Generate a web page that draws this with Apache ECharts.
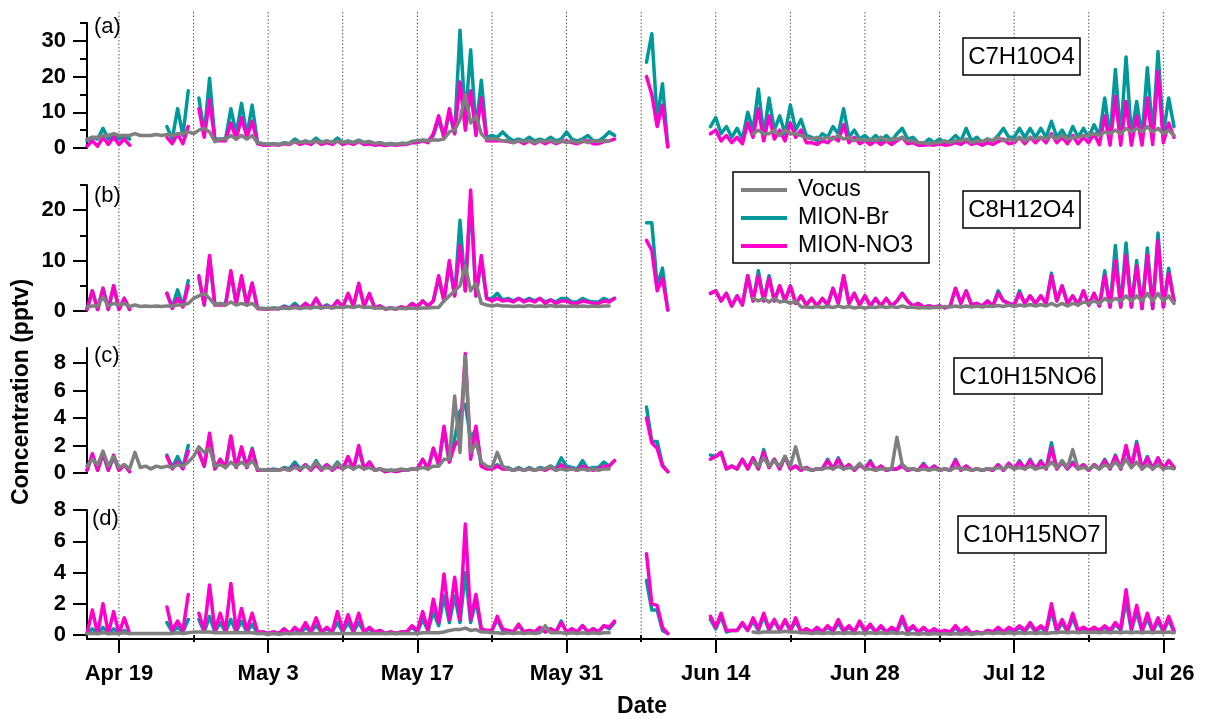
<!DOCTYPE html>
<html><head><meta charset="utf-8">
<script src="https://cdn.jsdelivr.net/npm/echarts@6/dist/echarts.min.js"></script>
<style>html,body{margin:0;padding:0;background:#fff}#chart{width:1207px;height:719px}</style>
</head><body><div id="chart"></div>
<script>
const _ = null;
// samples every 0.5 day starting Apr 16 00:00 (x = days since Apr 16)
const STEP = 0.5;
const tickDays = [3, 17, 31, 45, 59, 73, 87, 101];
const tickLabels = ['Apr 19', 'May 3', 'May 17', 'May 31', 'Jun 14', 'Jun 28', 'Jul 12', 'Jul 26'];
const minorDays = [10, 24, 38, 52, 66, 80, 94];
const weekDays = [3, 10, 17, 24, 31, 38, 45, 52, 59, 66, 73, 80, 87, 94, 101];
const seriesNames = ['Vocus', 'MION-Br', 'MION-NO3'];
const compounds = ['C7H10O4', 'C8H12O4', 'C10H15NO6', 'C10H15NO7'];
const panelLabels = ['(a)', '(b)', '(c)', '(d)'];
const yTicksA = [0, 10, 20, 30], yMinorA = [5, 15, 25, 35];
const yTicksB = [0, 10, 20], yMinorB = [5, 15, 25];
const yTicksC = [0, 2, 4, 6, 8];
const yTicksD = [0, 2, 4, 6, 8];

// ---- panel (a) C7H10O4 ----
const vocusA = [
2.5,3, 3,3.5, 3.5,4, 3.5,3.5, 3.5,4, 3.5,3.5, 3.5,3.8,
3.5,3.8, 3.5,4, 4,4.5, 4,5, 5.5,4.5, 1.8,2.5, 2.5,3.5,
2.5,3.5, 2.5,3.5, 1.5,1.2, 1,1.2, 1,1.3, 1.2,1.8, 1.5,1.8,
1.5,2, 1.5,2, 1.5,2, 1.5,1.8, 1.5,2, 1.5,1.8, 1.2,1.5,
1,1.2, 1,1.3, 1.2,1.8, 2,2.2, 2,2.3, 2.2,2.5, 4.5,5,
8,15, 7,9, 4,2.5, 2.5,2.5, 2,2, 1.5,2, 1.8,2,
1.5,2, 1.8,2.2, 1.5,2, 1.5,2, 1.5,2, 1.5,2, 1.8,2,
2,_, _,_, _,_, _,_, _,_, _,_, _,_,
_,_, _,_, _,_, _,_, _,_, _,_, _,4,
5,4, 4,5, 3.5,5, 4,4, 3.5,3, 2.5,3, 2.5,3,
2.5,3.5, 2.5,3, 2,2.5, 2,2.5, 2,3, 2,2.5, 2.5,3,
2,2, 1.5,1.5, 1.2,1.5, 1.5,2, 1.5,2, 2,2.5, 1.5,2,
1.8,2.5, 2,3, 2,2.5, 2,3, 2,3, 2.5,3, 2.5,3.5,
2.5,3.5, 2.5,3, 3,3.5, 3.5,4, 3.5,4.5, 4,5, 4,5.5,
4.5,5.5, 4.5,6, 4.5,5.5, 4,5, 3.5];
const brA = [
2,3, 2.5,5.5, 2.5,3.5, 2.5,3.5, 2.5,_, _,_, _,_,
_,6, 2.5,11, 3.5,16, _,14, 4,19.5, 2.5,2.5, 2.5,11,
4,12.5, 3.5,12, 1.5,1.2, 1,1.2, 1,1.5, 1.2,2.5, 1.5,2,
1.5,2.8, 1.5,2, 1.5,2.8, 1.5,2, 1.5,2.2, 1.5,1.8, 1.2,1.5,
1,1.3, 1,1.3, 1.2,1.8, 1.8,2.2, 2,3.5, 8,3, 10,4,
33,8, 27.5,5, 19,3, 3.5,3, 4.5,3, 2,2.5, 2,3,
2,2.5, 2,3, 2,2.5, 4.5,2.5, 2,2.5, 3.5,2, 2,3,
4.5,3.5, _,_, _,_, _,24, 32,8, 18,0.5, _,_,
_,_, _,_, _,6, 8.5,4, 6,3, 5.5,2.5, 10,5,
16.5,3.5, 14,5, 9,4, 12,5, 8,3.5, 3,2, 4,3,
6,4, 11,3, 5,2.5, 3.5,2, 3.5,2, 3.5,2, 4,5.5,
2.5,3, 1.5,1.2, 2.5,1.5, 2.5,1.5, 2,3.5, 2,5.5, 2,3,
1.5,2.5, 2,3.5, 5.5,3, 3,5.5, 3,5.5, 3,5.5, 3,7.5,
3,5, 2.5,6, 3,5.5, 3,6.5, 3.5,14, 3,22, 3,25.5,
3.5,13, 3,22.5, 3.5,27, 4,14, 6];
const no3A = [
0.5,2, 0.5,3, 1,3, 1,2.5, 0.8,_, _,_, _,_,
_,3, 1.2,4, 1.2,6, _,11, 3,13.5, 2,2, 2,7,
2.5,8.5, 3,7.5, 1.2,0.8, 0.8,1, 0.8,1.2, 1,1.8, 1,1.5,
1,2, 1,1.5, 1,2, 1,1.5, 1,1.8, 1,1.2, 0.8,1,
0.7,1, 0.8,1, 1,1.5, 1.5,2, 1.5,4, 9,3, 11,4,
18.5,5, 16,3.5, 14,2, 2,2, 2,1.8, 1.5,2, 1.2,2,
1.2,2, 1.2,2, 1.2,1.8, 2,1.5, 1.2,1.8, 2,1.2, 1.2,1.8,
2,2.5, _,_, _,_, _,20, 15,6, 12,0.3, _,_,
_,_, _,_, _,4, 5,2, 3.5,1.5, 3,1.2, 7,3,
11,2, 9,2.5, 5,2, 7,3, 5,1.5, 1.5,1, 2,1.5,
3,2, 6.5,1.5, 3,1.2, 2,1, 2,1, 2,1, 2,3,
1.2,1.5, 0.8,0.8, 1,0.8, 1.2,0.8, 1,1.5, 1,2, 1,1.5,
0.8,1.5, 1,1.8, 2.5,1.2, 1.5,3, 1.2,3, 1.5,3, 1.5,4,
1.5,3, 1.2,3.5, 1.2,3, 1.5,4, 0.9,9, 0.8,14.5, 0.8,13,
0.8,9, 0.8,14, 1,21.5, 1.5,7, 3];

// ---- panel (b) C8H12O4 ----
const vocusB = [
0.8,1, 1,2.8, 1,1.5, 1.2,1.5, 0.9,1.2, 0.9,1, 0.9,1,
0.9,1, 1,1.2, 1.2,1.5, 2.5,3, 3.5,2.5, 1.2,1.5, 1.2,1.8,
1.2,1.5, 1.2,1.5, 0.6,0.5, 0.5,0.5, 0.5,0.6, 0.5,0.7, 0.5,0.7,
0.6,0.8, 0.6,0.8, 0.6,0.8, 0.7,0.9, 0.7,1, 0.7,0.8, 0.6,0.6,
0.5,0.5, 0.5,0.5, 0.5,0.6, 0.5,0.6, 0.6,0.7, 0.7,2, 3,4,
5,9, 4,5.5, 1.5,1.2, 1,1.2, 1,1, 0.9,1, 0.9,1.1,
0.9,1, 0.9,1.1, 0.9,1, 0.9,1, 0.9,1, 0.9,1, 0.9,1,
1,_, _,_, _,_, _,_, _,_, _,_, _,_,
_,_, _,_, _,_, _,_, _,_, _,_, _,2.5,
2,2.5, 1.8,2.5, 1.8,2, 1.5,2, 0.8,0.8, 0.7,0.9, 0.7,0.9,
0.7,1, 0.7,0.9, 0.6,0.8, 0.6,0.8, 0.7,0.9, 0.7,0.9, 0.7,1,
0.7,0.8, 0.6,0.7, 0.6,0.7, 0.7,0.9, 0.8,1, 0.8,1, 0.8,1,
0.8,1, 0.9,1.1, 0.9,1.2, 0.9,1.2, 1,1.3, 1,1.3, 1,1.5,
1,1.5, 1,1.5, 1.2,1.8, 1.5,2, 1.5,2.5, 1.8,2.5, 2,3,
2,3, 2,3.5, 2,3.5, 2,3, 1.5];
const brB = [
0.3,4, 0.3,4.5, 0.3,5, 0.3,2.5, 0.3,_, _,_, _,_,
_,3.5, 0.8,4.2, 1,6, _,6.5, 1.2,10.5, 1.2,1.5, 1.3,7.5,
1.5,6.5, 1.2,5.5, 0.5,0.5, 0.4,0.6, 0.5,1, 0.6,1.5, 0.6,1.5,
0.7,2.5, 0.7,1.2, 0.7,2, 0.8,3.3, 1,5.2, 1,3.3, 0.6,1,
0.4,0.6, 0.4,0.8, 0.5,1.5, 0.8,2, 1,2, 6.5,2, 9.5,3,
18,4, 22,3, 10,2.5, 2.5,3.5, 2.2,2.5, 2,2.5, 2,2.5,
2,2.5, 1.8,2.2, 1.8,2.5, 2.5,1.8, 1.8,2.5, 2,1.8, 1.8,2.5,
2,2.5, _,_, _,_, _,17.5, 17.5,5, 8.5,0.2, _,_,
_,_, _,_, _,3.5, 4,2, 3.5,1, 3,1.2, 7,2,
8,2, 7,2, 5,2, 5,1.5, 3,1.2, 2.5,1, 2.5,1.2,
4.5,1.5, 7,1.5, 3.5,1.2, 3,1, 2.5,1, 2.5,1, 2,3.5,
2,1, 1.5,0.8, 1,0.8, 1,0.6, 1,4.5, 1.5,4, 1.2,1.5,
1,2, 1,4, 2,1.5, 1.2,4, 1.5,3, 1.5,3, 1.5,7.5,
2,5, 1.5,3, 1.2,4, 1.2,3.5, 1,8, 0.8,13, 0.8,13.5,
0.8,10, 0.5,12.5, 0.5,15.5, 0.8,8.5, 2];
const no3B = [
0.3,4, 0.3,4.5, 0.3,5, 0.3,2.5, 0.3,_, _,_, _,_,
_,3.5, 0.5,2.5, 0.8,5, _,7, 1.2,11, 1.2,1.2, 1.2,8,
1.5,7, 1.2,5.5, 0.5,0.4, 0.4,0.5, 0.4,0.8, 0.5,1, 0.5,1.5,
0.6,2.5, 0.6,1, 0.6,2, 0.8,3.5, 1,5.5, 1,3.5, 0.6,1,
0.4,0.6, 0.4,0.8, 0.5,1.5, 0.8,2, 1,2, 7,2, 10,3,
13,4, 24,3, 11,2.5, 2,2.5, 2,2.2, 1.8,2.5, 1.8,2.2,
1.8,2.5, 1.5,2.2, 1.5,2, 2,1.5, 1.5,2, 1.8,1.5, 1.5,2,
1.8,2.5, _,_, _,_, _,14, 12,4, 6.5,0.2, _,_,
_,_, _,_, _,3.5, 4,2, 3.5,1, 3,1.2, 7,2,
7,2, 6.5,2, 5,2, 5,1.5, 3,1.2, 2.5,1, 2.5,1.2,
4.5,1.5, 7,1.5, 3.5,1.2, 3,1, 2.5,1, 2.5,1, 2,3.5,
2,1, 1.5,0.8, 1,0.8, 1,0.6, 1,4.5, 1.5,4, 1.2,1.5,
1,2, 1,3.5, 2,1.5, 1.2,3.5, 1.5,3, 1.5,3, 1.5,7,
2,5, 1.5,3, 1.2,4, 1.2,3.5, 1,7, 0.8,10, 0.8,11,
0.8,9, 0.5,11, 0.5,14, 0.8,7.5, 2];

// ---- panel (c) C10H15NO6 ----
const vocusC = [
0.5,1, 0.6,1.6, 0.5,1.2, 0.4,0.6, 0.3,1.5, 0.4,0.5, 0.3,0.5,
0.4,0.5, 0.4,0.6, 0.5,0.8, 1.2,1.9, 1.5,1.8, 0.5,0.6, 0.4,0.8,
0.5,0.8, 0.5,0.9, 0.3,0.2, 0.2,0.2, 0.2,0.3, 0.2,0.4, 0.3,0.5,
0.3,0.8, 0.3,0.4, 0.3,0.7, 0.3,0.5, 0.3,0.5, 0.3,0.4, 0.2,0.3,
0.2,0.2, 0.2,0.3, 0.2,0.3, 0.3,0.4, 0.3,0.5, 0.5,1, 1,5.6,
1.5,8.5, 1.5,2.2, 0.8,0.5, 0.4,1.5, 0.5,0.3, 0.2,0.3, 0.2,0.3,
0.2,0.3, 0.3,0.5, 0.2,0.3, 0.2,0.3, 0.2,0.3, 0.2,0.3, 0.2,0.3,
0.3,_, _,_, _,_, _,_, _,_, _,_, _,_,
_,_, _,_, _,_, _,_, _,_, _,_, _,0.8,
0.5,1.1, 0.5,0.9, 0.5,1.2, 0.5,1.9, 0.4,0.3, 0.2,0.3, 0.3,0.4,
0.3,0.5, 0.3,0.4, 0.3,0.7, 0.3,0.3, 0.2,0.3, 0.3,0.3, 2.6,0.6,
0.3,0.3, 0.2,0.3, 0.2,0.3, 0.2,0.3, 0.2,0.4, 0.3,0.3, 0.2,0.3,
0.2,0.3, 0.3,0.4, 0.3,0.5, 0.3,0.4, 0.3,0.5, 0.3,0.4, 0.4,0.8,
0.4,0.9, 0.4,1.7, 0.3,0.4, 0.3,0.5, 0.3,0.6, 0.4,0.8, 0.4,1,
0.4,0.8, 0.3,0.6, 0.3,0.6, 0.3,0.4, 0.3];
const brC = [
0.2,1.3, 0.2,1.4, 0.2,1.2, 0.2,0.6, 0.1,_, _,_, _,_,
_,1.3, 0.4,1.2, 0.4,2, _,1.5, 0.5,2.7, 0.3,1, 0.4,2.6,
0.4,1.8, 0.4,1.8, 0.2,0.2, 0.2,0.3, 0.2,0.4, 0.3,0.8, 0.3,0.6,
0.3,0.9, 0.3,0.6, 0.3,0.8, 0.3,1.1, 0.3,1.8, 0.3,0.8, 0.2,0.3,
0.1,0.2, 0.1,0.2, 0.2,0.3, 0.3,1, 0.3,1.8, 0.6,3.2, 0.8,2.5,
4.5,5, 2.5,3.2, 0.5,0.4, 0.3,0.6, 0.3,0.4, 0.2,0.4, 0.2,0.4,
0.2,0.4, 0.3,0.5, 0.3,1.1, 0.5,0.4, 0.3,0.9, 0.3,0.4, 0.4,0.8,
0.5,0.9, _,_, _,_, _,4.8, 2.3,2.3, 0.6,0.1, _,_,
_,_, _,_, _,1.3, 1.2,1.5, 0.3,0.5, 0.3,1, 0.3,1.1,
0.3,1.7, 0.4,1, 0.3,1.2, 0.3,0.5, 0.2,0.4, 0.2,0.3, 0.3,1,
0.3,1.1, 0.3,0.6, 0.2,0.6, 0.3,0.9, 0.2,0.5, 0.2,0.3, 0.3,0.6,
0.2,0.3, 0.2,0.7, 0.2,0.5, 0.2,0.3, 0.2,1, 0.2,0.5, 0.2,0.3,
0.2,0.3, 0.2,0.6, 0.2,0.7, 0.3,0.9, 0.3,1, 0.3,0.9, 0.3,2.2,
0.3,0.8, 0.3,0.8, 0.3,0.6, 0.2,0.6, 0.3,1, 0.3,1.3, 0.3,1.8,
0.4,2.3, 0.3,1.2, 0.3,1.1, 0.3,0.9, 0.4];
const no3C = [
0.2,1.4, 0.2,1.5, 0.2,1.3, 0.2,0.6, 0.1,_, _,_, _,_,
_,1.2, 0.3,0.8, 0.3,1.6, _,1.5, 0.5,2.9, 0.3,1, 0.4,2.7,
0.4,1.9, 0.4,1.7, 0.2,0.2, 0.2,0.2, 0.2,0.3, 0.2,0.5, 0.2,0.6,
0.2,0.6, 0.2,0.6, 0.2,0.5, 0.3,1.2, 0.3,2, 0.3,0.8, 0.2,0.3,
0.1,0.2, 0.1,0.2, 0.2,0.3, 0.3,1, 0.3,1.8, 0.6,3.4, 0.8,2,
2.5,8.7, 1,3.4, 0.5,0.3, 0.3,0.5, 0.3,0.3, 0.2,0.3, 0.2,0.3,
0.2,0.3, 0.2,0.4, 0.2,0.6, 0.3,0.3, 0.2,0.5, 0.3,0.2, 0.3,0.5,
0.5,0.9, _,_, _,_, _,4, 2.2,1.8, 0.5,0.1, _,_,
_,_, _,_, _,1, 1.2,1.5, 0.3,0.5, 0.3,1, 0.3,1.1,
0.3,1.5, 0.4,1, 0.3,1.2, 0.3,0.5, 0.2,0.4, 0.2,0.3, 0.3,0.9,
0.3,1, 0.3,0.6, 0.2,0.6, 0.3,0.8, 0.2,0.5, 0.2,0.3, 0.3,0.5,
0.2,0.3, 0.2,0.6, 0.2,0.5, 0.2,0.3, 0.2,0.9, 0.2,0.5, 0.2,0.3,
0.2,0.3, 0.2,0.6, 0.2,0.7, 0.3,0.8, 0.3,0.9, 0.3,0.8, 0.3,1.8,
0.3,0.8, 0.3,0.7, 0.3,0.6, 0.2,0.6, 0.3,0.9, 0.3,1.2, 0.3,2,
0.4,2.1, 0.3,1.1, 0.3,1.1, 0.3,0.9, 0.4];

// ---- panel (d) C10H15NO7 ----
const vocusD = [
0.1,0.1, 0.1,0.15, 0.1,0.1, 0.1,0.15, 0.1,0.1, 0.1,0.1, 0.1,0.1,
0.1,0.1, 0.1,0.15, 0.1,0.15, 0.2,0.2, 0.2,0.2, 0.15,0.15, 0.15,0.15,
0.15,0.15, 0.15,0.15, 0.1,0.1, 0.05,0.1, 0.05,0.1, 0.1,0.1, 0.1,0.1,
0.1,0.1, 0.1,0.1, 0.1,0.1, 0.1,0.1, 0.1,0.1, 0.1,0.1, 0.1,0.1,
0.1,0.1, 0.1,0.1, 0.1,0.1, 0.1,0.15, 0.15,0.15, 0.15,0.2, 0.3,0.35,
0.35,0.45, 0.3,0.35, 0.2,0.2, 0.15,0.15, 0.1,0.15, 0.1,0.15, 0.1,0.15,
0.1,0.15, 0.6,0.15, 0.15,0.15, 0.1,0.15, 0.1,0.15, 0.1,0.15, 0.1,0.15,
0.15,_, _,_, _,_, _,_, _,_, _,_, _,_,
_,_, _,_, _,_, _,_, _,_, _,_, _,0.2,
0.15,0.2, 0.2,0.2, 0.2,0.25, 0.2,0.2, 0.15,0.15, 0.1,0.15, 0.1,0.15,
0.1,0.15, 0.1,0.15, 0.1,0.15, 0.1,0.15, 0.1,0.15, 0.1,0.15, 0.1,0.15,
0.05,0.1, 0.05,0.1, 0.05,0.1, 0.05,0.1, 0.05,0.1, 0.05,0.1, 0.05,0.1,
0.1,0.15, 0.1,0.15, 0.1,0.15, 0.1,0.15, 0.1,0.15, 0.1,0.15, 0.1,0.15,
0.15,0.2, 0.15,0.2, 0.15,0.2, 0.15,0.2, 0.15,0.2, 0.15,0.2, 0.15,0.2,
0.15,0.2, 0.15,0.2, 0.15,0.2, 0.15,0.2, 0.15];
const brD = [
0.1,0.4, 0.1,0.5, 0.1,0.4, 0.1,0.3, 0.1,_, _,_, _,_,
_,0.8, 0.2,0.5, 0.2,1, _,1, 0.2,1.2, 0.2,0.8, 0.2,1,
0.2,0.9, 0.2,0.7, 0.1,0.2, 0.1,0.2, 0.1,0.4, 0.1,0.4, 0.1,0.5,
0.2,0.6, 0.2,0.4, 0.2,0.8, 0.2,0.8, 0.2,0.8, 0.2,0.4, 0.1,0.3,
0.1,0.2, 0.1,0.2, 0.2,0.5, 0.2,1, 0.3,1.5, 0.6,2.5, 0.8,2.5,
0.8,4, 0.8,2.2, 0.3,0.3, 0.3,1, 0.3,0.3, 0.2,0.6, 0.2,0.3,
0.2,0.4, 0.2,0.4, 0.2,0.9, 0.2,0.4, 0.2,0.6, 0.2,0.4, 0.2,0.6,
0.4,0.8, _,_, _,_, _,3.5, 1.6,1.6, 0.3,0.1, _,_,
_,_, _,_, _,1, 0.4,1.2, 0.2,0.3, 0.3,0.7, 0.3,0.9,
0.3,1.2, 0.3,0.9, 0.3,0.9, 0.3,0.9, 0.2,0.4, 0.2,0.4, 0.2,0.5,
0.2,0.8, 0.2,0.5, 0.2,0.8, 0.2,0.6, 0.2,0.5, 0.2,0.4, 0.2,1,
0.2,0.5, 0.2,0.4, 0.2,0.3, 0.1,0.3, 0.1,0.5, 0.1,0.4, 0.1,0.2,
0.1,0.3, 0.2,0.4, 0.2,0.4, 0.2,0.5, 0.2,0.7, 0.2,0.5, 0.2,1.6,
0.2,0.8, 0.2,1.1, 0.2,0.4, 0.2,0.4, 0.2,0.5, 0.2,0.7, 0.3,2.2,
0.3,1.5, 0.2,1.1, 0.2,0.9, 0.2,1, 0.2];
const no3D = [
0.1,1.6, 0.1,2, 0.1,1.5, 0.1,1.1, 0.1,_, _,_, _,_,
_,1.8, 0.3,0.9, 0.3,2.6, _,1.4, 0.3,3.2, 0.3,1.4, 0.3,3.3,
0.3,1.7, 0.3,1.4, 0.2,0.2, 0.1,0.2, 0.1,0.4, 0.1,0.5, 0.2,0.8,
0.2,1.1, 0.2,0.5, 0.2,1.5, 0.3,1.3, 0.3,1.4, 0.2,0.5, 0.2,0.3,
0.1,0.2, 0.1,0.2, 0.2,0.6, 0.3,1.5, 0.3,2.3, 0.8,3.9, 1,3.7,
1,7.1, 1,2.6, 0.4,0.3, 0.3,1.2, 0.4,0.3, 0.2,0.7, 0.2,0.3,
0.2,0.5, 0.2,0.4, 0.2,0.8, 0.2,0.4, 0.2,0.6, 0.2,0.4, 0.2,0.6,
0.5,0.9, _,_, _,_, _,5.2, 2,1.9, 0.5,0.1, _,_,
_,_, _,_, _,1.2, 0.5,1.4, 0.3,0.3, 0.3,0.8, 0.3,1.1,
0.4,1.4, 0.4,1, 0.3,1, 0.3,1.1, 0.2,0.4, 0.2,0.5, 0.2,0.6,
0.3,1, 0.3,0.6, 0.2,0.9, 0.3,0.7, 0.2,0.6, 0.2,0.5, 0.3,1.2,
0.3,0.6, 0.2,0.5, 0.2,0.4, 0.2,0.3, 0.2,0.6, 0.2,0.5, 0.1,0.2,
0.1,0.3, 0.2,0.5, 0.2,0.5, 0.3,0.6, 0.3,0.8, 0.3,0.6, 0.3,2,
0.3,1, 0.3,1.4, 0.3,0.5, 0.3,0.5, 0.3,0.6, 0.3,0.8, 0.4,2.9,
0.4,1.9, 0.3,1.4, 0.3,1.1, 0.3,1.2, 0.3];

const COLORS = {'Vocus': '#7f7f7f', 'MION-Br': '#009999', 'MION-NO3': '#ff00cc'};
const FONT = '"Liberation Sans", Arial, sans-serif';
const X_MAX = 102;

const chart = echarts.init(document.getElementById('chart'), null, {renderer: 'canvas'});

const gridBase = {left: 87, right: 33};
const grids = [
  Object.assign({top: 12, height: 627}, gridBase),
  Object.assign({top: 23, height: 125}, gridBase),
  Object.assign({top: 185, height: 126}, gridBase),
  Object.assign({top: 348, height: 125}, gridBase),
  Object.assign({top: 510, height: 129}, gridBase)
];

const hiddenX = (g) => ({gridIndex: g, type: 'value', min: 0, max: X_MAX, show: false});
const yAxisMajor = (g, min, max, ticks) => ({
  gridIndex: g, type: 'value', min, max, position: 'left',
  axisLine: {show: true, onZero: false, lineStyle: {color: '#000', width: 2}},
  axisTick: {show: true, length: 14, customValues: ticks, lineStyle: {color: '#000', width: 2}},
  axisLabel: {show: true, customValues: ticks, margin: 21, color: '#000', fontFamily: FONT, fontWeight: 'bold', fontSize: 22},
  splitLine: {show: false}
});
const yAxisMinor = (g, min, max, ticks) => ({
  gridIndex: g, type: 'value', min, max, position: 'left',
  axisLine: {show: false},
  axisTick: {show: true, length: 7, customValues: ticks, lineStyle: {color: '#000', width: 2}},
  axisLabel: {show: false}, splitLine: {show: false}
});

const xAxes = [
  hiddenX(0), hiddenX(1), hiddenX(2), hiddenX(3),
  {gridIndex: 4, type: 'value', min: 0, max: X_MAX, position: 'bottom',
   axisLine: {show: true, onZero: false, lineStyle: {color: '#000', width: 2}},
   axisTick: {show: true, length: 14, customValues: tickDays, lineStyle: {color: '#000', width: 2}},
   axisLabel: {show: true, customValues: tickDays, margin: 24, color: '#000', fontFamily: FONT, fontWeight: 'bold', fontSize: 22,
     formatter: (v) => { const k = tickDays.indexOf(Math.round(v)); return k >= 0 ? tickLabels[k] : ''; }},
   splitLine: {show: false}},
  {gridIndex: 4, type: 'value', min: 0, max: X_MAX, position: 'bottom',
   axisLine: {show: false},
   axisTick: {show: true, length: 7, customValues: minorDays, lineStyle: {color: '#000', width: 2}},
   axisLabel: {show: false}, splitLine: {show: false}}
];
const yAxes = [
  {gridIndex: 0, type: 'value', min: 0, max: 1, show: false},
  yAxisMajor(1, 0, 35, yTicksA), yAxisMinor(1, 0, 35, yMinorA),
  yAxisMajor(2, 0, 25, yTicksB), yAxisMinor(2, 0, 25, yMinorB),
  yAxisMajor(3, 0, 9.1, yTicksC),
  yAxisMajor(4, -0.25, 8, yTicksD)
];

function lineSeries(name, values, xi, yi) {
  return {
    type: 'line', name, xAxisIndex: xi, yAxisIndex: yi,
    data: values.map((v, i) => [i * STEP, v]),
    showSymbol: false, symbol: 'none', connectNulls: false, clip: false,
    lineStyle: {color: COLORS[name], width: 3.5, join: 'round', cap: 'round'},
    itemStyle: {color: COLORS[name]},
    emphasis: {disabled: true}, z: 3
  };
}

const panels = [
  {x: 1, y: 1, vocus: vocusA, br: brA, no3: no3A},
  {x: 2, y: 3, vocus: vocusB, br: brB, no3: no3B},
  {x: 3, y: 5, vocus: vocusC, br: brC, no3: no3C},
  {x: 4, y: 6, vocus: vocusD, br: brD, no3: no3D}
];

const series = [{
  type: 'custom', xAxisIndex: 0, yAxisIndex: 0, silent: true, z: 1,
  data: weekDays.map(d => [d, 0]),
  renderItem: (params, api) => {
    const x = api.value(0);
    const top = api.coord([x, 1]);
    const bot = api.coord([x, 0]);
    return {type: 'line', shape: {x1: top[0], y1: top[1], x2: bot[0], y2: bot[1]},
            style: {stroke: '#555', lineWidth: 1, lineDash: [1.5, 2]}};
  }
}];
panels.forEach(p => {
  series.push(lineSeries('MION-Br', p.br, p.x, p.y));
  series.push(lineSeries('MION-NO3', p.no3, p.x, p.y));
  series.push(lineSeries('Vocus', p.vocus, p.x, p.y));
});

const boxes = [
  {x: 963, y: 38, w: 117, h: 37},
  {x: 963, y: 191, w: 117, h: 37},
  {x: 954, y: 358, w: 148, h: 36},
  {x: 958, y: 516, w: 148, h: 37}
];
const labelPos = [[94, 27], [94, 196], [94, 356], [92, 519]];
const graphics = [];
compounds.forEach((c, i) => {
  const b = boxes[i];
  graphics.push({type: 'rect', shape: {x: b.x, y: b.y, width: b.w, height: b.h}, style: {fill: '#fff', stroke: '#000', lineWidth: 1.5}, z: 10});
  graphics.push({type: 'text', x: b.x + b.w / 2, y: b.y + b.h / 2 + 1, z: 11,
    style: {text: c, font: '24px ' + FONT, fill: '#000', align: 'center', verticalAlign: 'middle', textAlign: 'center', textVerticalAlign: 'middle'}});
});
panelLabels.forEach((t, i) => {
  graphics.push({type: 'text', x: labelPos[i][0], y: labelPos[i][1], z: 11,
    style: {text: t, font: '22px ' + FONT, fill: '#000', align: 'left', verticalAlign: 'middle', textAlign: 'left', textVerticalAlign: 'middle'}});
});
graphics.push({type: 'text', x: 22, y: 392, rotation: Math.PI / 2, z: 11,
  style: {text: 'Concentration (pptv)', font: 'bold 23px ' + FONT, fill: '#000', align: 'center', verticalAlign: 'middle', textAlign: 'center', textVerticalAlign: 'middle'}});
graphics.push({type: 'text', x: 642, y: 707, z: 11,
  style: {text: 'Date', font: 'bold 23px ' + FONT, fill: '#000', align: 'center', verticalAlign: 'middle', textAlign: 'center', textVerticalAlign: 'middle'}});

chart.setOption({
  animation: false,
  backgroundColor: '#fff',
  grid: grids,
  xAxis: xAxes,
  yAxis: yAxes,
  legend: {
    data: seriesNames, orient: 'vertical', left: 733, top: 172,
    icon: 'rect', itemWidth: 46, itemHeight: 4, itemGap: 4,
    padding: [6, 16, 5, 8], borderColor: '#000', borderWidth: 1.5, backgroundColor: '#fff',
    selectedMode: false, z: 12,
    textStyle: {fontFamily: FONT, fontSize: 23, color: '#000', lineHeight: 24, padding: [0, 0, 0, 6]}
  },
  graphic: {elements: graphics},
  series
});
</script>
</body></html>
